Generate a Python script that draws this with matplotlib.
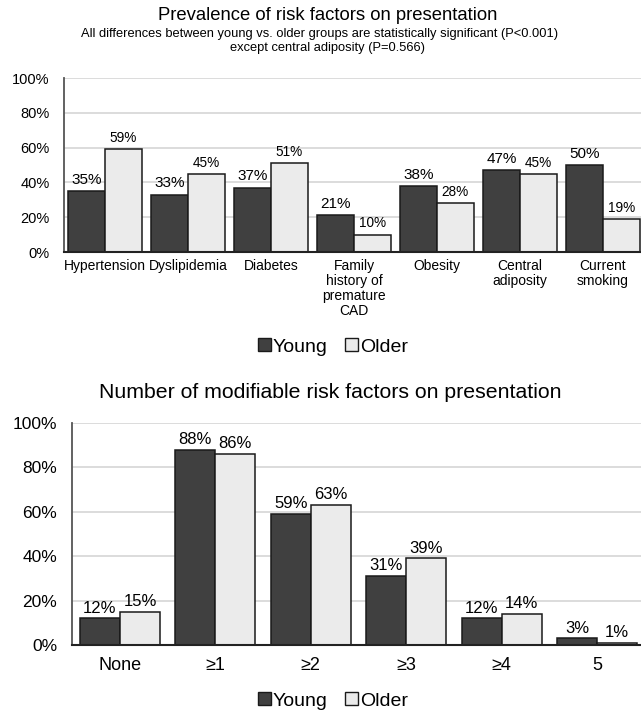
import numpy as np
import matplotlib
matplotlib.use('Agg')
import matplotlib.pyplot as plt
from matplotlib.patches import Patch

plt.rcParams['font.family'] = ['Liberation Sans', 'DejaVu Sans']

# 数据：各危险因素患病率
factors = ['Hypertension', 'Dyslipidemia', 'Diabetes',
           'Family\nhistory of\npremature\nCAD', 'Obesity',
           'Central\nadiposity', 'Current\nsmoking']
young_prev = [35, 33, 37, 21, 38, 47, 50]
older_prev = [59, 45, 51, 10, 28, 45, 19]

# 数据：可改变危险因素数量
counts = ['None', '≥1', '≥2', '≥3', '≥4', '5']
young_cnt = [12, 88, 59, 31, 12, 3]
older_cnt = [15, 86, 63, 39, 14, 1]

c_young = '#404040'
c_older = '#ebebeb'
c_edge = '#1a1a1a'
c_grid = '#d9d9d9'

W, H = 641, 710
fig = plt.figure(figsize=(W / 100, H / 100), dpi=100)


def style_axis(ax, ytick_size, pad):
    ax.set_ylim(0, 100)
    ax.set_yticks(np.arange(0, 101, 20))
    ax.set_yticklabels([f'{v}%' for v in range(0, 101, 20)], fontsize=ytick_size)
    ax.yaxis.grid(True, color=c_grid, linewidth=1.3)
    ax.set_axisbelow(True)
    ax.tick_params(axis='both', length=0)
    ax.tick_params(axis='y', pad=pad)
    for s in ['top', 'right']:
        ax.spines[s].set_visible(False)
    ax.spines['left'].set_color('#555555')
    ax.spines['left'].set_linewidth(1.3)
    ax.spines['bottom'].set_color('#222222')
    ax.spines['bottom'].set_linewidth(1.5)


def add_legend(y_px, x_px):
    handles = [Patch(facecolor=c_young, edgecolor=c_edge, linewidth=1.0),
               Patch(facecolor=c_older, edgecolor=c_edge, linewidth=1.0)]
    fig.legend(handles, ['Young', 'Older'], loc='center',
               bbox_to_anchor=(x_px / W, 1 - y_px / H), ncol=2, frameon=False,
               fontsize=14, handlelength=0.65, handleheight=0.65,
               handletextpad=0.1, columnspacing=0.9, borderpad=0)


# 上图
ax1 = fig.add_axes([63.5 / W, 1 - 252 / H, 581 / W, 174 / H])
x1 = np.arange(len(factors))
bw1 = 0.44
b1 = ax1.bar(x1 - bw1 / 2, young_prev, bw1, color=c_young, edgecolor=c_edge, linewidth=1.1)
b2 = ax1.bar(x1 + bw1 / 2, older_prev, bw1, color=c_older, edgecolor=c_edge, linewidth=1.1)
ax1.set_xlim(-0.5, len(factors) - 0.5)
style_axis(ax1, 10.5, 10)
ax1.set_xticks(x1)
ax1.set_xticklabels(factors, fontsize=10, linespacing=1.1)
ax1.tick_params(axis='x', pad=5)
for r, v in zip(b1, young_prev):
    ax1.annotate(f'{v}%', (r.get_x() + r.get_width() / 2, v), xytext=(0, 3),
                 textcoords='offset points', ha='center', va='bottom', fontsize=11)
for r, v in zip(b2, older_prev):
    ax1.annotate(f'{v}%', (r.get_x() + r.get_width() / 2, v), xytext=(0, 3),
                 textcoords='offset points', ha='center', va='bottom', fontsize=9.8)

fig.text(328 / W, 1 - 16 / H, 'Prevalence of risk factors on presentation',
         ha='center', va='center', fontsize=13.3)
fig.text(320 / W, 1 - 34 / H,
         'All differences between young vs. older groups are statistically significant (P<0.001)',
         ha='center', va='center', fontsize=9.3)
fig.text(328 / W, 1 - 48 / H, 'except central adiposity (P=0.566)',
         ha='center', va='center', fontsize=9.3)
add_legend(347, 333)

# 下图
ax2 = fig.add_axes([72.3 / W, 1 - 645 / H, 572.4 / W, 222 / H])
x2 = np.arange(len(counts))
bw2 = 0.42
c1 = ax2.bar(x2 - bw2 / 2, young_cnt, bw2, color=c_young, edgecolor=c_edge, linewidth=1.1)
c2 = ax2.bar(x2 + bw2 / 2, older_cnt, bw2, color=c_older, edgecolor=c_edge, linewidth=1.1)
ax2.set_xlim(-0.5, len(counts) - 0.5)
style_axis(ax2, 12.5, 11)
ax2.set_xticks(x2)
ax2.set_xticklabels(counts, fontsize=13)
ax2.tick_params(axis='x', pad=9)
for bars, vals in [(c1, young_cnt), (c2, older_cnt)]:
    for r, v in zip(bars, vals):
        ax2.annotate(f'{v}%', (r.get_x() + r.get_width() / 2, v), xytext=(0, 2),
                     textcoords='offset points', ha='center', va='bottom', fontsize=12)

fig.text(330 / W, 1 - 392 / H, 'Number of modifiable risk factors on presentation',
         ha='center', va='center', fontsize=15.3)
add_legend(701, 333)

fig.savefig('out.png', dpi=100)
